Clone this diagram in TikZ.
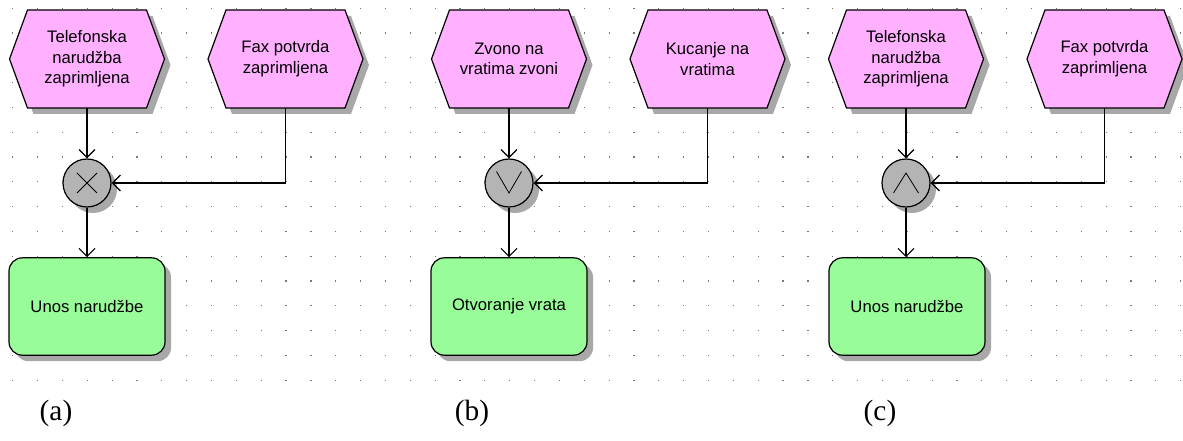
\documentclass[tikz,border=0pt]{standalone}
\usepackage{fontspec}
\setmainfont{Liberation Sans}
\newfontfamily\serifface{Liberation Serif}
\usetikzlibrary{arrows.meta,shadows,calc}

\definecolor{evpink}{RGB}{255,176,255}
\definecolor{fngreen}{RGB}{152,252,152}
\definecolor{gategray}{RGB}{180,180,180}
\definecolor{shadowgray}{RGB}{168,168,168}
\definecolor{dotgray}{RGB}{120,120,120}

\tikzset{
  evtext/.style={minimum width=116.25pt, minimum height=73.5pt, inner sep=0pt, align=center,
    font=\fontsize{12.5}{15.5}\selectfont},
  shadowdrop/.style={drop shadow={shadow xshift=4.5pt, shadow yshift=-4.5pt, fill=shadowgray, opacity=1}},
  func/.style={draw, line width=0.9pt, fill=fngreen, rounded corners=10pt, minimum width=117pt,
    minimum height=73pt, inner sep=0pt, font=\fontsize{12.5}{15}\selectfont, shadowdrop},
  gate/.style={circle, draw, line width=0.9pt, fill=gategray, minimum size=36pt, inner sep=0pt, shadowdrop},
  flow/.style={line width=0.9pt, -{Straight Barb[length=6pt,width=12pt]}},
  hexline/.style={draw, line width=0.9pt, fill=evpink, line join=miter},
  hexshadow/.style={fill=shadowgray},
  sym/.style={line width=0.6pt},
  lbl/.style={font=\serifface\fontsize{22}{26}\selectfont}
}

\newcommand\hexev[4]{%
  \begin{scope}[shift={(#2,#3)}]
    \path[hexshadow] (-71.5,6) -- (-53.5,-43) -- (65.5,-43) -- (83.5,6) -- (65.5,55) -- (-53.5,55) -- cycle;
    \path[hexline] (-77.5,0) -- (-59.5,-49) -- (59.5,-49) -- (77.5,0) -- (59.5,49) -- (-59.5,49) -- cycle;
  \end{scope}
  \node[evtext] (#1) at (#2,#3) {#4};
}

\begin{document}
\begin{tikzpicture}[x=0.75pt,y=-0.75pt]
\useasboundingbox (0,0) rectangle (1183,441);
\fill[white] (0,0) rectangle (1183,441);

% dot grid
\foreach \i in {0,...,47}{
  \foreach \j in {0,...,15}{
    \fill[dotgray] ({12.7+24.85*\i-0.6},{8.3+24.8*\j-0.6}) rectangle ++(1.2,1.2);
  }
}

% ---------- panel (a) ----------
\hexev{e1a}{87}{59}{Telefonska\\narudžba\\zaprimljena}
\hexev{e2a}{285.5}{59}{Fax potvrda\\zaprimljena}
\node[gate] (ga) at (87,183) {};
\draw[sym] ([shift={(-10,-10)}]ga.center) -- ([shift={(10,10)}]ga.center);
\draw[sym] ([shift={(-10,10)}]ga.center) -- ([shift={(10,-10)}]ga.center);
\node[func] (fa) at (87,306.5) {Unos narudžbe};
\draw[flow] (e1a.south) -- (ga.north);
\draw[flow] (e2a.south) |- (ga.east);
\draw[flow] (ga.south) -- (fa.north);

% ---------- panel (b) ----------
\hexev{e1b}{509}{59}{Zvono na\\vratima zvoni}
\hexev{e2b}{707.5}{59}{Kucanje na\\vratima}
\node[gate] (gb) at (509,183) {};
\draw[sym] ([shift={(-12.5,-11.5)}]gb.center) -- ([shift={(0,10)}]gb.center) -- ([shift={(12.5,-11.5)}]gb.center);
\node[func] (fb) at (509,306.5) {Otvoranje vrata};
\draw[flow] (e1b.south) -- (gb.north);
\draw[flow] (e2b.south) |- (gb.east);
\draw[flow] (gb.south) -- (fb.north);

% ---------- panel (c) ----------
\hexev{e1c}{906}{59}{Telefonska\\narudžba\\zaprimljena}
\hexev{e2c}{1104.5}{59}{Fax potvrda\\zaprimljena}
\node[gate] (gc) at (906,183) {};
\draw[sym] ([shift={(-12.5,10)}]gc.center) -- ([shift={(0,-10)}]gc.center) -- ([shift={(12.5,10)}]gc.center);
\node[func] (fc) at (907,306.5) {Unos narudžbe};
\draw[flow] (e1c.south) -- (gc.north);
\draw[flow] (e2c.south) |- (gc.east);
\draw[flow] (gc.south) -- (gc.south |- fc.north);

% labels
\node[lbl] (la) at (56,413) {(a)};
\node[lbl] (lb) at (472,413) {(b)};
\node[lbl] (lc) at (880,413) {(c)};
\end{tikzpicture}
\end{document}
